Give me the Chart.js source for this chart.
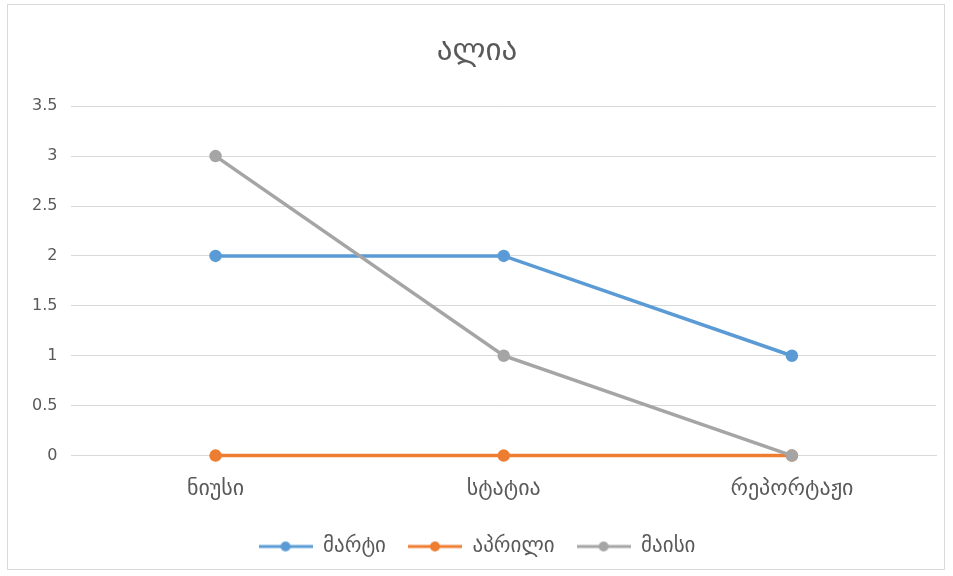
<!DOCTYPE html>
<html>
<head>
    <meta charset="utf-8">
    <title>ალია</title>
    <style>
        body {
            margin: 0;
            background: #fff;
        }
        #box {
            position: absolute;
            left: 7px;
            top: 4px;
            width: 938px;
            height: 566px;
            border: 1px solid #d9d9d9;
            box-sizing: border-box;
        }
    </style>
    <script src="https://cdn.jsdelivr.net/npm/chart.js"></script>
</head>
<body>
    <div id="box"><canvas id="chart"></canvas></div>

    <script>
        const categories = ['ნიუსი', 'სტატია', 'რეპორტაჟი'];
        const seriesNames = ['მარტი', 'აპრილი', 'მაისი'];
        const marti = [2, 2, 1];
        const aprili = [0, 0, 0];
        const maisi = [3, 1, 0];
        const colors = ['#5b9bd5', '#ed7d31', '#a5a5a5'];

        // small legend swatch: line with a dot in the middle
        function swatch(color) {
            const c = document.createElement('canvas');
            c.width = 54; c.height = 12;
            const g = c.getContext('2d');
            g.strokeStyle = color; g.lineWidth = 3;
            g.beginPath(); g.moveTo(0, 6); g.lineTo(54, 6); g.stroke();
            g.fillStyle = color;
            g.beginPath(); g.arc(27, 6, 5, 0, Math.PI * 2); g.fill();
            return c;
        }

        const values = [marti, aprili, maisi];
        const datasets = seriesNames.map((name, i) => ({
            label: name,
            data: values[i],
            borderColor: colors[i],
            backgroundColor: colors[i],
            borderWidth: 3.5,
            pointStyle: 'circle',
            pointRadius: 4.5,
            pointHoverRadius: 4.5,
            clip: false,
            order: seriesNames.length - i   // later series drawn on top
        }));

        Chart.defaults.font.family = 'DejaVu Sans';
        Chart.defaults.color = '#595959';

        new Chart(document.getElementById('chart'), {
            type: 'line',
            data: { labels: categories, datasets: datasets },
            options: {
                responsive: true,
                maintainAspectRatio: false,
                animation: false,
                layout: { padding: { left: 10, right: 8, top: 28, bottom: 2 } },
                plugins: {
                    title: {
                        display: true,
                        text: 'ალია',
                        font: { size: 31, weight: 'normal' },
                        color: '#595959',
                        padding: { top: 0, bottom: 36 }
                    },
                    legend: {
                        position: 'bottom',
                        labels: {
                            usePointStyle: true,
                            pointStyleWidth: 54,
                            font: { size: 21 },
                            padding: 22,
                            sort: (a, b) => a.datasetIndex - b.datasetIndex,
                            generateLabels: chart => chart.data.datasets.map((d, i) => ({
                                text: d.label,
                                pointStyle: swatch(colors[i]),
                                fillStyle: colors[i],
                                strokeStyle: colors[i],
                                lineWidth: 0,
                                datasetIndex: i,
                                fontColor: '#595959'
                            }))
                        }
                    },
                    tooltip: { enabled: false }
                },
                scales: {
                    x: {
                        offset: true,
                        grid: { display: false },
                        border: { color: '#d9d9d9' },
                        ticks: { font: { size: 22 }, padding: 12 }
                    },
                    y: {
                        min: 0,
                        max: 3.5,
                        ticks: {
                            stepSize: 0.5,
                            font: { size: 16 },
                            padding: 14,
                            callback: v => String(v)
                        },
                        grid: { color: '#d9d9d9', drawTicks: false },
                        border: { display: false }
                    }
                }
            }
        });
    </script>
</body>
</html>
